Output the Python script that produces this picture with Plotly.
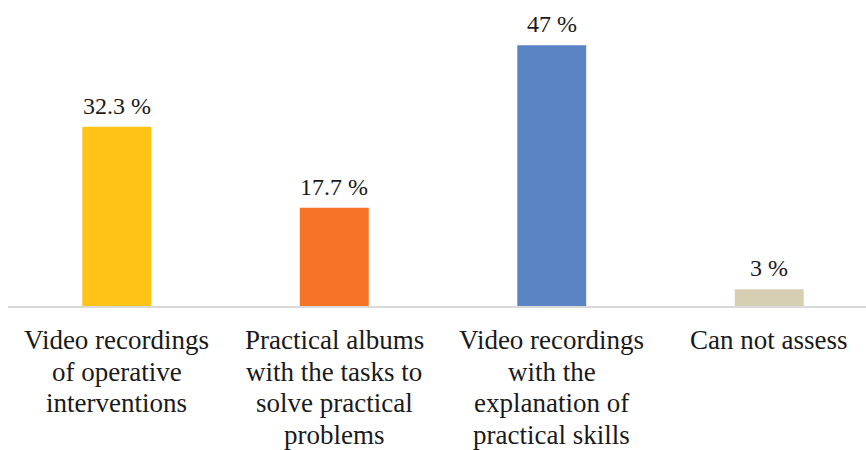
import plotly.graph_objects as go

categories = [
    "Video recordings<br>of operative<br>interventions",
    "Practical albums<br>with the tasks to<br>solve practical<br>problems",
    "Video recordings<br>with the<br>explanation of<br>practical skills",
    "Can not assess",
]
values = [32.3, 17.7, 47, 3]
labels = ["32.3 %", "17.7 %", "47 %", "3 %"]
colors = ["#FFC216", "#F47325", "#5B84C4", "#D7CFB4"]

FONT = "Liberation Serif"
LINE_GAP = 31.5

fig = go.Figure()
fig.add_trace(go.Bar(
    x=list(range(len(categories))),
    y=values,
    marker=dict(color=colors, line=dict(width=0)),
    width=0.317,
    hoverinfo="skip",
))

for i, (v, t) in enumerate(zip(values, labels)):
    fig.add_annotation(
        x=i, y=v, text=t, showarrow=False, yanchor="bottom", yshift=6,
        font=dict(family=FONT, size=24, color="#1a1a1a"),
    )

# category labels, one annotation per line for Excel-like tight line spacing
for i, cat in enumerate(categories):
    for k, line in enumerate(cat.split("<br>")):
        fig.add_annotation(
            x=i, xref="x", y=0, yref="paper", text=line, showarrow=False,
            yanchor="middle", yshift=-(34 + k * LINE_GAP),
            font=dict(family=FONT, size=27, color="#1a1a1a"),
        )

fig.update_layout(
    width=866, height=450,
    margin=dict(l=8, r=0, t=0, b=144, autoexpand=False),
    paper_bgcolor="white", plot_bgcolor="white",
    showlegend=False,
    font=dict(family=FONT),
    xaxis=dict(
        tickmode="array", tickvals=list(range(len(categories))),
        showticklabels=False,
        range=[-0.5, -0.5 + 858 / 217.5],
        showline=True, linecolor="#D9D9D9", linewidth=2,
        showgrid=False, zeroline=False, ticks="",
        automargin=False,
        fixedrange=True,
    ),
    yaxis=dict(
        range=[0, 306 / 5.55], visible=False, showgrid=False, zeroline=False,
        fixedrange=True, automargin=False,
    ),
)

fig.write_html("out.html")
